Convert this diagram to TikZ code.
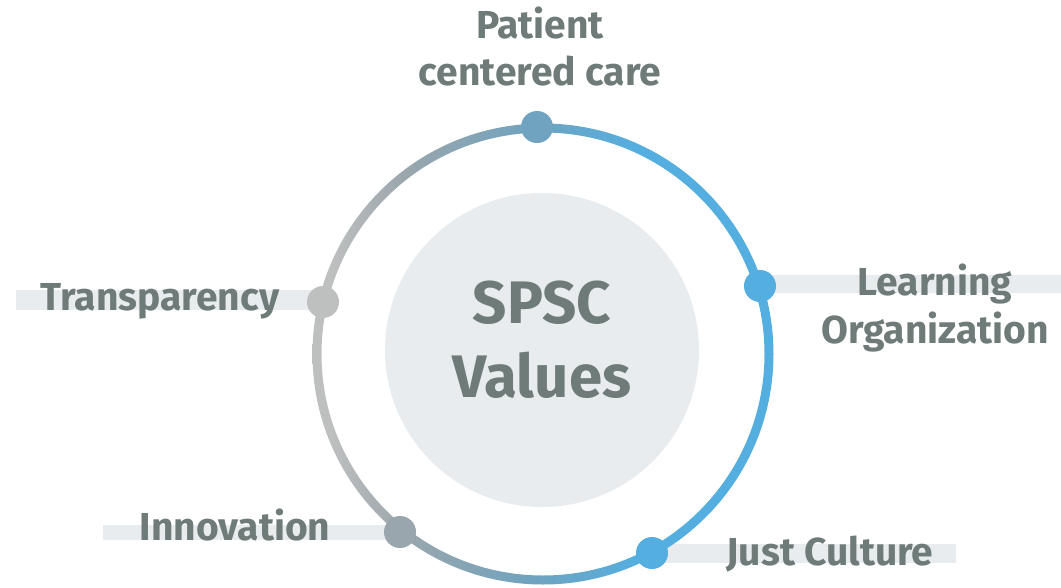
\documentclass[tikz,border=0pt]{standalone}
\usepackage{fontspec}
\setmainfont{Fira Sans}
\usetikzlibrary{calc}
\definecolor{txt}{RGB}{110,123,120}
\definecolor{barc}{RGB}{233,236,239}
\definecolor{innerc}{RGB}{233,236,239}
\definecolor{ringgray}{RGB}{190,191,191}
\definecolor{ringmid}{RGB}{154,166,173}
\definecolor{ringtop}{RGB}{111,163,191}
\definecolor{ringblue}{RGB}{85,174,224}
\pgfdeclarehorizontalshading{ringshade}{100bp}{color(0bp)=(ringgray); color(27bp)=(ringgray); color(35bp)=(ringmid); color(49bp)=(ringtop); color(60bp)=(ringblue); color(100bp)=(ringblue)}
\begin{document}
\begin{tikzpicture}[x=1pt,y=-1pt,
  lbl/.style={text=txt, font=\fontsize{39}{47}\selectfont\bfseries, align=center, inner sep=0pt, anchor=base},
  dot/.style={circle, minimum size=32pt, inner sep=0pt},
  bar/.style={fill=barc}]
\useasboundingbox (0,0) rectangle (1061,587);
\fill[white] (0,0) rectangle (1061,587);
\coordinate (C) at (543,354);
% inner disc
\node[circle, fill=innerc, minimum size=314pt, inner sep=0pt] (core) at (542,350) {};
\node[lbl, font=\fontsize{60}{74}\selectfont\bfseries] (title) at (542,397) {SPSC\\Values};
% dots (named for bars)
\coordinate (pT) at (537,127);
\coordinate (pL) at (760,286);
\coordinate (pTr) at (323,302);
\coordinate (pI) at (400,532);
\coordinate (pJ) at (652,553);
% bar ends
\coordinate (eL) at (1061,284);
\coordinate (eTr) at (16,300);
\coordinate (eI) at (103,532.5);
\coordinate (eJ) at (956,554);
% bars
\fill[bar] ($(eTr)+(0,-10)$) rectangle ($(pTr)+(0,8)$);
\fill[bar] ($(pL)+(0,-11)$) rectangle ($(eL)+(0,9)$);
\fill[bar] ($(eI)+(0,-8)$) rectangle ($(pI)+(0,8)$);
\fill[bar] ($(pJ)+(0,-9)$) rectangle ($(eJ)+(0,9)$);
% ring
\shade[shading=ringshade, even odd rule] (C) circle[radius=230.5pt] (C) circle[radius=221.5pt];
% dots
\node[dot, fill=ringtop] (dT) at (pT) {};
\node[dot, fill=ringblue] (dL) at (pL) {};
\node[dot, fill=ringgray] (dTr) at (pTr) {};
\node[dot, fill=ringmid] (dI) at (pI) {};
\node[dot, fill=ringblue] (dJ) at (pJ) {};
% labels
\node[lbl] (tT) at (540,85) {Patient\\centered care};
\node[lbl, font=\fontsize{39}{48}\selectfont\bfseries] (tL) at (935,343) {Learning\\Organization};
\node[lbl] (tTr) at (160,310) {Transparency};
\node[lbl] (tI) at (235,540) {Innovation};
\node[lbl] (tJ) at (830,565) {Just Culture};
\end{tikzpicture}
\end{document}
